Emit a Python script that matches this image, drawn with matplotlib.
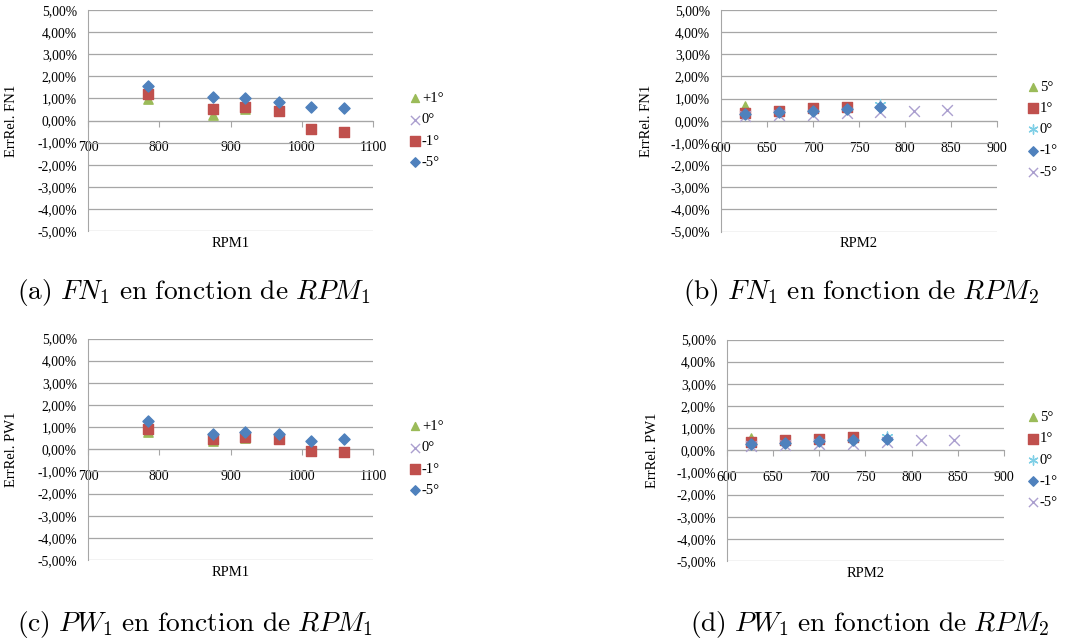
import matplotlib.pyplot as plt
from matplotlib.ticker import FuncFormatter, MultipleLocator

plt.rcParams['font.family'] = ['Liberation Serif', 'DejaVu Serif']
plt.rcParams['mathtext.fontset'] = 'cm'

# x values (RPM)
rpm1 = [784, 875, 921, 968, 1013, 1059]
rpm2 = [626, 663, 700, 737, 773, 810, 846]

# (a) FN1 vs RPM1, relative error in %
a_p1 = [0.97, 0.25, 0.50]
a_0 = []
a_m1 = [1.21, 0.54, 0.63, 0.44, -0.38, -0.51]
a_m5 = [1.57, 1.07, 1.01, 0.83, 0.59, 0.56]

# (b) FN1 vs RPM2
b_5 = [0.66]
b_1 = [0.35, 0.45, 0.56, 0.63]
b_0 = [0.71]
b_m1 = [0.30, 0.38, 0.45, 0.52, 0.60]
b_m5 = [0.20, 0.25, 0.28, 0.33, 0.41, 0.44, 0.50]

# (c) PW1 vs RPM1
c_p1 = [0.80, 0.35, 0.50]
c_0 = []
c_m1 = [0.93, 0.45, 0.57, 0.48, -0.06, -0.14]
c_m5 = [1.29, 0.70, 0.78, 0.70, 0.39, 0.45]

# (d) PW1 vs RPM2
d_5 = [0.55]
d_1 = [0.37, 0.45, 0.51, 0.59]
d_0 = [0.62]
d_m1 = [0.30, 0.33, 0.41, 0.45, 0.53]
d_m5 = [0.18, 0.22, 0.26, 0.30, 0.38, 0.45, 0.48]

GREEN = '#9bbb59'
RED = '#c0504d'
BLUE = '#4f81bd'
PURPLE = '#ab9fcf'
CYAN = '#7fcfe6'

W, H = 1091, 642
fig = plt.figure(figsize=(W / 100, H / 100), dpi=100)


def make_ax(l, r, t, b):
    return fig.add_axes([l / W, 1 - b / H, (r - l) / W, (b - t) / H])


def style(ax, xlim, xstep, xlabel, ylabel):
    ax.set_xlim(*xlim)
    ax.set_ylim(-5, 5)
    ax.xaxis.set_major_locator(MultipleLocator(xstep))
    ax.yaxis.set_major_locator(MultipleLocator(1))
    ax.yaxis.set_major_formatter(FuncFormatter(lambda v, p: f'{v:.2f}%'.replace('.', ',')))
    ax.grid(axis='y', color='#a6a6a6', lw=0.9)
    ax.set_axisbelow(True)
    for s in ['top', 'right']:
        ax.spines[s].set_visible(False)
    ax.spines['left'].set_color('#a6a6a6')
    ax.spines['bottom'].set_color('#a6a6a6')
    ax.spines['bottom'].set_position(('data', 0))
    ax.tick_params(axis='x', direction='out', length=4, color='#a6a6a6', pad=11, labelsize=10)
    ax.tick_params(axis='y', length=0, pad=8, labelsize=9.8)
    ax.set_xlabel(xlabel, fontsize=10.5)
    ax.xaxis.set_label_coords(0.5, -0.027)
    ax.set_ylabel(ylabel, fontsize=10.5)
    ax.yaxis.set_label_coords(-0.245, 0.5)


def legend(ax, x, y):
    ax.legend(loc='center left', bbox_to_anchor=(x / W, 1 - y / H), bbox_transform=fig.transFigure,
              frameon=False, fontsize=10.5, handlelength=0.6, handletextpad=0.2, labelspacing=0.55,
              borderpad=0, markerscale=0.85)


# (a)
ax = make_ax(88, 373, 10, 231)
ax.scatter(rpm1[:len(a_p1)], a_p1, marker='^', s=45, color=GREEN, label='+1°', zorder=3)
ax.scatter(rpm1[:len(a_0)], a_0, marker='x', s=60, color=PURPLE, lw=1, label='0°', zorder=3)
ax.scatter(rpm1, a_m1, marker='s', s=60, color=RED, label='-1°', zorder=3)
ax.scatter(rpm1, a_m5, marker='D', s=32, color=BLUE, label='-5°', zorder=3)
style(ax, (700, 1100), 100, 'RPM1', 'ErrRel. FN1')
legend(ax, 403, 130.5)

# (b)
ax = make_ax(721, 997, 10, 231.5)
ax.scatter(rpm2[:len(b_5)], b_5, marker='^', s=45, color=GREEN, label='5°', zorder=3)
ax.scatter(rpm2[:len(b_1)], b_1, marker='s', s=60, color=RED, label='1°', zorder=3)
ax.scatter(rpm2[4:4 + len(b_0)], b_0, marker=(6, 2, 0), s=60, color=CYAN, lw=1, label='0°', zorder=3)
ax.scatter(rpm2[:len(b_m1)], b_m1, marker='D', s=32, color=BLUE, label='-1°', zorder=4)
ax.scatter(rpm2, b_m5, marker='x', s=60, color=PURPLE, lw=1, label='-5°', zorder=3)
style(ax, (600, 900), 50, 'RPM2', 'ErrRel. FN1')
legend(ax, 1021, 129.5)

# (c)
ax = make_ax(88, 373, 338.5, 560)
ax.scatter(rpm1[:len(c_p1)], c_p1, marker='^', s=45, color=GREEN, label='+1°', zorder=3)
ax.scatter(rpm1[:len(c_0)], c_0, marker='x', s=60, color=PURPLE, lw=1, label='0°', zorder=3)
ax.scatter(rpm1, c_m1, marker='s', s=60, color=RED, label='-1°', zorder=3)
ax.scatter(rpm1, c_m5, marker='D', s=32, color=BLUE, label='-5°', zorder=3)
style(ax, (700, 1100), 100, 'RPM1', 'ErrRel. PW1')
legend(ax, 403, 458.5)

# (d)
ax = make_ax(727, 1004, 339.5, 561)
ax.scatter(rpm2[:len(d_5)], d_5, marker='^', s=45, color=GREEN, label='5°', zorder=3)
ax.scatter(rpm2[:len(d_1)], d_1, marker='s', s=60, color=RED, label='1°', zorder=3)
ax.scatter(rpm2[4:4 + len(d_0)], d_0, marker=(6, 2, 0), s=60, color=CYAN, lw=1, label='0°', zorder=3)
ax.scatter(rpm2[:len(d_m1)], d_m1, marker='D', s=32, color=BLUE, label='-1°', zorder=4)
ax.scatter(rpm2, d_m5, marker='x', s=60, color=PURPLE, lw=1, label='-5°', zorder=3)
style(ax, (600, 900), 50, 'RPM2', 'ErrRel. PW1')
legend(ax, 1021, 460)

# captions
cap = dict(fontsize=19.8, va='center', ha='left')
fig.text(17 / W, 1 - 293 / H, r'$\mathrm{(a)}\ FN_1\ \mathrm{en\ fonction\ de}\ RPM_1$', **cap)
fig.text(683 / W, 1 - 293 / H, r'$\mathrm{(b)}\ FN_1\ \mathrm{en\ fonction\ de}\ RPM_2$', **cap)
fig.text(17 / W, 1 - 624 / H, r'$\mathrm{(c)}\ PW_1\ \mathrm{en\ fonction\ de}\ RPM_1$', **cap)
fig.text(690 / W, 1 - 624 / H, r'$\mathrm{(d)}\ PW_1\ \mathrm{en\ fonction\ de}\ RPM_2$', **cap)

fig.savefig('out.png', dpi=100)
